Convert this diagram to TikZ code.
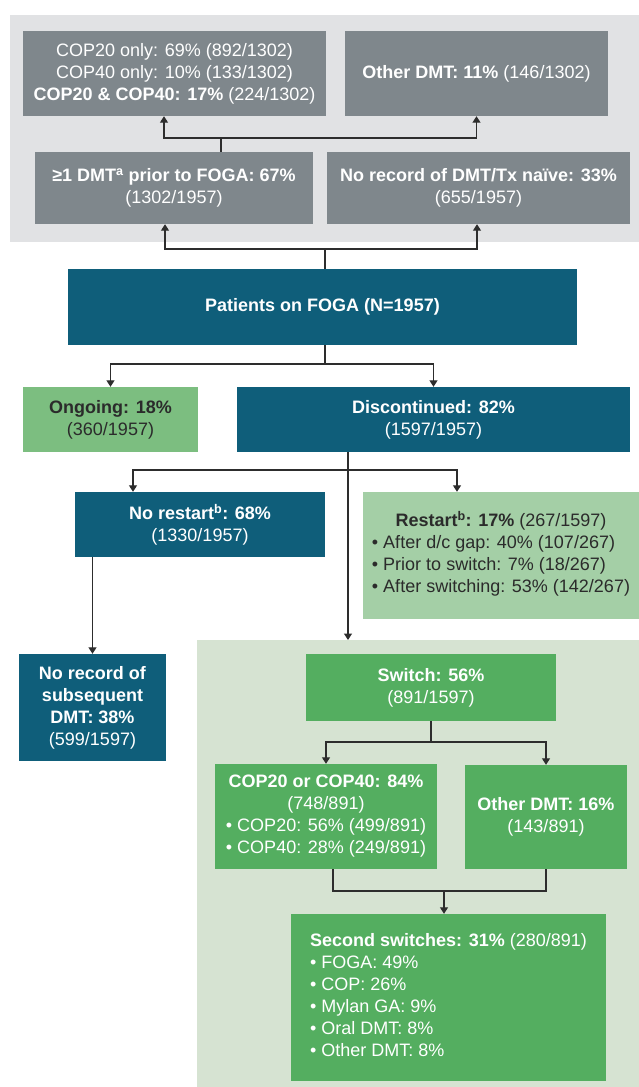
\documentclass[tikz,border=0pt]{standalone}
\usepackage{fontspec}
\setmainfont{Liberation Sans}
\usetikzlibrary{arrows.meta}
\definecolor{greybg}{RGB}{225,226,228}
\definecolor{greybox}{RGB}{127,135,140}
\definecolor{teal}{RGB}{15,94,122}
\definecolor{midgreen}{RGB}{124,190,128}
\definecolor{lightgreen}{RGB}{164,207,166}
\definecolor{panelgreen}{RGB}{214,227,210}
\definecolor{boxgreen}{RGB}{84,174,96}
\definecolor{darktext}{RGB}{43,43,43}
\definecolor{linecol}{RGB}{45,45,45}
\begin{document}
\begin{tikzpicture}[x=1pt,y=-1pt,
  bx/.style={rectangle, inner sep=0pt, align=center, text=white,
    font=\fontsize{18}{22}\selectfont},
  tb/.style={rectangle, inner sep=0pt, text=white,
    font=\fontsize{18}{22}\selectfont},
  greyb/.style={bx, fill=greybox},
  tealb/.style={bx, fill=teal},
  greenb/.style={bx, fill=boxgreen},
  ln/.style={draw=linecol, line width=1.3pt},
  arr/.style={ln, -{Triangle[width=8pt,length=6.5pt]}},
  panel/.style={rectangle, inner sep=0pt, anchor=north west}]
\useasboundingbox (0,0) rectangle (639,1087);
% panels
\node[panel, fill=greybg, minimum width=629pt, minimum height=227pt] (gpan) at (10,15) {};
\node[panel, fill=panelgreen, minimum width=442pt, minimum height=447pt] (lpan) at (197,640) {};
% top grey boxes
\node[greyb, minimum width=303pt, minimum height=85pt] (cop) at (174.5,73.5)
  {COP20 only: 69\% (892/1302)\\COP40 only: 10\% (133/1302)\\\textbf{COP20 \& COP40: 17\%} (224/1302)};
\node[greyb, minimum width=263pt, minimum height=85pt] (oth1) at (476.5,73.5)
  {\textbf{Other DMT: 11\%} (146/1302)};
\node[greyb, minimum width=278pt, minimum height=72pt] (dmt1) at (174,188)
  {\textbf{≥1 DMT\textsuperscript{a} prior to FOGA: 67\%}\\(1302/1957)};
\node[greyb, minimum width=303pt, minimum height=72pt] (naive) at (478.5,188)
  {\textbf{No record of DMT/Tx naïve: 33\%}\\(655/1957)};
% main
\node[tealb, minimum width=509pt, minimum height=76pt] (foga) at (322.5,307)
  {\textbf{Patients on FOGA (N=1957)}};
\node[bx, fill=midgreen, text=darktext, minimum width=175pt, minimum height=65pt] (ongo) at (110.5,419.5)
  {\textbf{Ongoing: 18\%}\\(360/1957)};
\node[tealb, minimum width=393pt, minimum height=65pt] (disc) at (433.5,419.5)
  {\textbf{Discontinued: 82\%}\\(1597/1957)};
\node[tealb, minimum width=250pt, minimum height=65pt] (norest) at (200,524.5)
  {\textbf{No restart\textsuperscript{b}: 68\%}\\(1330/1957)};
\node[tb, fill=lightgreen, text=darktext, minimum width=276pt, minimum height=127pt] (rest) at (501,555.5)
  {\begin{tabular}{@{}l@{}}\multicolumn{1}{@{}c@{}}{\textbf{Restart\textsuperscript{b}: 17\%} (267/1597)}\\
   • After d/c gap: 40\% (107/267)\\
   • Prior to switch: 7\% (18/267)\\
   • After switching: 53\% (142/267)\end{tabular}};
\node[tealb, minimum width=147pt, minimum height=107pt] (norec) at (92.5,707.5)
  {\textbf{No record of}\\\textbf{subsequent}\\\textbf{DMT: 38\%}\\(599/1597)};
% switch panel
\node[greenb, minimum width=250pt, minimum height=67pt] (sw) at (431,687.5)
  {\textbf{Switch: 56\%}\\(891/1597)};
\node[greenb, minimum width=222pt, minimum height=105pt] (cops) at (326,816.5)
  {\textbf{COP20 or COP40: 84\%}\\(748/891)\\• COP20: 56\% (499/891)\\• COP40: 28\% (249/891)};
\node[greenb, minimum width=162pt, minimum height=104pt] (oth2) at (546,817)
  {\textbf{Other DMT: 16\%}\\(143/891)};
\node[tb, fill=boxgreen, minimum width=315pt, minimum height=167pt] (sec) at (448.5,997.5)
  {\begin{tabular}{@{}l@{}}\textbf{Second switches: 31\%} (280/891)\\
   • FOGA: 49\%\\• COP: 26\%\\• Mylan GA: 9\%\\• Oral DMT: 8\%\\• Other DMT: 8\%\end{tabular}};
% connectors
\coordinate (j1) at (221,138);
\draw[ln] (dmt1.north -| j1) -- (j1);
\draw[arr] (j1) -| ([xshift=-10.5pt]cop.south);
\draw[arr] (j1) -| (oth1.south);
\coordinate (j2) at (325,249);
\draw[ln] (foga.north -| j2) -- (j2);
\draw[arr] (j2) -| ([xshift=-9pt]dmt1.south);
\draw[arr] (j2) -| ([xshift=-1.5pt]naive.south);
\coordinate (j3) at (325,364);
\draw[ln] (foga.south -| j3) -- (j3);
\draw[arr] (j3) -| (ongo.north);
\draw[arr] (j3) -| (disc.north);
\coordinate (j4) at (348,470);
\draw[arr] (disc.south -| j4) -- (lpan.north -| j4);
\draw[arr] (j4) -| ([xshift=-67pt]norest.north);
\draw[arr] (j4) -| ([xshift=-44pt]rest.north);
\draw[arr] (norest.south -| norec.north) -- (norec.north);
\coordinate (j5) at (431,742);
\draw[ln] (sw.south) -- (j5);
\draw[arr] (j5) -| (cops.north);
\draw[arr] (j5) -| (oth2.north);
\coordinate (j6) at (444,891);
\draw[ln] ([xshift=7pt]cops.south) |- (j6);
\draw[ln] (oth2.south) |- (j6);
\draw[arr] (j6) -- (sec.north -| j6);
\end{tikzpicture}
\end{document}
